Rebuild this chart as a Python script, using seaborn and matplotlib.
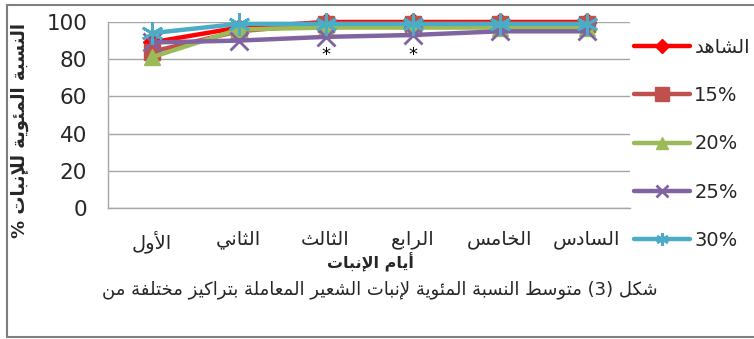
import re
import numpy as np
import pandas as pd
import matplotlib
matplotlib.use("Agg")
import matplotlib.pyplot as plt
from matplotlib.lines import Line2D
import seaborn as sns

# ---------------- data ----------------
days = ["الأول", "الثاني", "الثالث", "الرابع", "الخامس", "السادس"]
series_names = ["الشاهد", "15%", "20%", "25%", "30%"]
control = [89, 97, 100, 100, 100, 100]
conc15 = [84, 95, 99, 99, 99, 99]
conc20 = [81, 96, 97, 97, 97, 97]
conc25 = [89, 90, 92, 93, 95, 95]
conc30 = [94, 99, 99, 99, 99, 99]
star_days = [2, 3]
star_value = 82
yticks = [0, 20, 40, 60, 80, 100]
ylabel = "النسبة المئوية للإنبات %"
xlabel = "أيام الإنبات"
caption = "شكل (3) متوسط النسبة المئوية لإنبات الشعير المعاملة بتراكيز مختلفة من"

# ---------------- minimal Arabic shaping ----------------
_seq = [('ء', 0xFE80, 1), ('آ', 0xFE81, 2), ('أ', 0xFE83, 2), ('ؤ', 0xFE85, 2),
        ('إ', 0xFE87, 2), ('ئ', 0xFE89, 4), ('ا', 0xFE8D, 2), ('ب', 0xFE8F, 4),
        ('ة', 0xFE93, 2), ('ت', 0xFE95, 4), ('ث', 0xFE99, 4), ('ج', 0xFE9D, 4),
        ('ح', 0xFEA1, 4), ('خ', 0xFEA5, 4), ('د', 0xFEA9, 2), ('ذ', 0xFEAB, 2),
        ('ر', 0xFEAD, 2), ('ز', 0xFEAF, 2), ('س', 0xFEB1, 4), ('ش', 0xFEB5, 4),
        ('ص', 0xFEB9, 4), ('ض', 0xFEBD, 4), ('ط', 0xFEC1, 4), ('ظ', 0xFEC5, 4),
        ('ع', 0xFEC9, 4), ('غ', 0xFECD, 4), ('ف', 0xFED1, 4), ('ق', 0xFED5, 4),
        ('ك', 0xFED9, 4), ('ل', 0xFEDD, 4), ('م', 0xFEE1, 4), ('ن', 0xFEE5, 4),
        ('ه', 0xFEE9, 4), ('و', 0xFEED, 2), ('ى', 0xFEEF, 2), ('ي', 0xFEF1, 4)]
FORMS = {c: (b, n) for c, b, n in _seq}
LAMALEF = {'آ': 0xFEF5, 'أ': 0xFEF7, 'إ': 0xFEF9, 'ا': 0xFEFB}


def ar(s):
    toks = []
    i = 0
    while i < len(s):
        c = s[i]
        if c == 'ل' and i + 1 < len(s) and s[i + 1] in LAMALEF:
            toks.append((LAMALEF[s[i + 1]], 2))
            i += 2
            continue
        toks.append(FORMS.get(c, c))
        i += 1
    out = []
    for j, t in enumerate(toks):
        if isinstance(t, str):
            out.append(t)
            continue
        base, n = t
        if n == 1:
            out.append(chr(base))
            continue
        prev = toks[j - 1] if j > 0 else None
        nxt = toks[j + 1] if j + 1 < len(toks) else None
        jp = isinstance(prev, tuple) and prev[1] == 4
        jn = n == 4 and isinstance(nxt, tuple) and nxt[1] >= 2
        idx = 3 if (jp and jn) else 1 if jp else 2 if jn else 0
        out.append(chr(base + idx))
    vis = ''.join(out)[::-1]
    vis = re.sub(r'[0-9]+', lambda m: m.group(0)[::-1], vis)
    vis = vis.translate(str.maketrans('()', ')('))
    return vis


def lab(s):
    return ar(s) if re.search(r'[\u0600-\u06FF]', s) else s


# ---------------- style ----------------
sns.set_style("white")
plt.rcParams['font.family'] = ['DejaVu Sans']

W, H = 754, 339
fig = plt.figure(figsize=(W / 100, H / 100), dpi=100)
L, R, T, B = 108, 630, 22, 208
ax = fig.add_axes([L / W, 1 - B / H, (R - L) / W, (B - T) / H])

values = [control, conc15, conc20, conc25, conc30]
colors = ["#FF0000", "#C0504D", "#9BBB59", "#8064A2", "#4BACC6"]
markers = ["D", "s", "^", "x", (6, 2, 0)]
msizes = [9, 11, 11, 13, 16]
lmsizes = [7, 10, 8, 9, 9]
mews = [1, 1, 1, 2, 2]

pos = np.arange(len(days))
for vals, col, mk, ms, mew in zip(values, colors, markers, msizes, mews):
    sns.lineplot(x=pos, y=vals, ax=ax, color=col, marker=mk, markersize=ms,
                 markeredgecolor=col, markeredgewidth=mew, linewidth=3.2,
                 legend=False, clip_on=False, zorder=3)

for d in star_days:
    ax.text(d, star_value, "*", ha="center", va="center", fontsize=13,
            color="black", zorder=4)

ax.set_xlim(-0.5, len(days) - 0.5)
ax.set_ylim(0, 100)
ax.set_yticks(yticks)
ax.set_yticklabels([str(v) for v in yticks], fontsize=15.5)
ax.yaxis.grid(True, color="#a6a6a6", linewidth=1)
ax.set_axisbelow(True)

ax.set_xticks(np.arange(-0.5, len(days) + 0.5, 1.0))
ax.set_xticklabels([])
ax.set_xticks(pos, minor=True)
ax.set_xticklabels([ar(d) for d in days], minor=True, fontsize=14)
ax.tick_params(axis="x", which="major", length=6, color="#a6a6a6", direction="out")
ax.tick_params(axis="x", which="minor", length=0, pad=16)
ax.tick_params(axis="y", length=7, color="#a6a6a6", direction="out", pad=8)

for side in ["top", "right"]:
    ax.spines[side].set_visible(False)
for side in ["left", "bottom"]:
    ax.spines[side].set_color("#a6a6a6")
    ax.spines[side].set_linewidth(1)

# axis titles and caption
fig.text(20 / W, 1 - 130 / H, ar(ylabel), rotation=90, ha="center", va="center",
         fontsize=13, fontweight="bold")
fig.text(370 / W, 1 - 262 / H, ar(xlabel), ha="center", va="center",
         fontsize=11.5, fontweight="bold")
fig.text(380 / W, 1 - 290 / H, ar(caption), ha="center", va="center", fontsize=13)

# legend
handles = [Line2D([], [], color=c, marker=m, markersize=s, markeredgecolor=c,
                  markeredgewidth=w, linewidth=3.2)
           for c, m, s, w in zip(colors, markers, lmsizes, mews)]
fig.legend(handles, [lab(n) for n in series_names], loc="upper left",
           bbox_to_anchor=(634 / W, 1 - 38 / H), frameon=False, fontsize=14,
           handlelength=2.9, handletextpad=0.2, labelspacing=1.5, borderpad=0,
           borderaxespad=0)

# outer chart border
bc = "#7f7f7f"
fig.add_artist(Line2D([7 / W, 1], [1 - 5 / H, 1 - 5 / H], color=bc, lw=1.5))
fig.add_artist(Line2D([7 / W, 7 / W], [1 - 5 / H, 1 - 337 / H], color=bc, lw=1.5))
fig.add_artist(Line2D([7 / W, 1], [1 - 337 / H, 1 - 337 / H], color=bc, lw=1.5))

fig.savefig("out.png", dpi=100)
